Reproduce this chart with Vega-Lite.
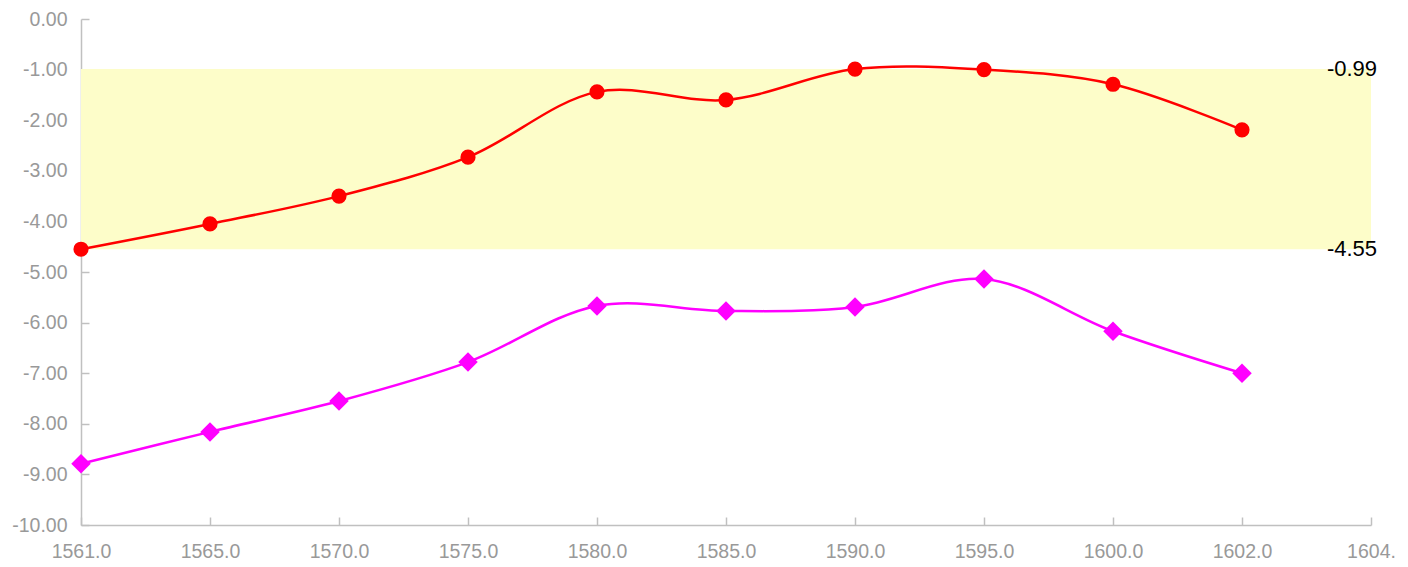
{
  "$schema": "https://vega.github.io/schema/vega-lite/v6.json",
  "width": 1290,
  "height": 506,
  "autosize": {"type": "none"},
  "padding": {"left": 81, "top": 19, "right": 37, "bottom": 42},
  "config": {
    "view": {"stroke": null},
    "font": "Liberation Sans",
    "axis": {
      "labelFont": "Liberation Sans",
      "labelFontSize": 19.5,
      "labelColor": "#999999",
      "domainColor": "#c0c0c0",
      "tickColor": "#c0c0c0",
      "domainWidth": 1.5,
      "tickWidth": 1.5,
      "grid": false,
      "title": null,
      "labelOverlap": false
    }
  },
  "datasets": {
    "series": [
      {"year": "1561.0", "series": "A", "value": -4.55},
      {"year": "1565.0", "series": "A", "value": -4.05},
      {"year": "1570.0", "series": "A", "value": -3.50},
      {"year": "1575.0", "series": "A", "value": -2.73},
      {"year": "1580.0", "series": "A", "value": -1.44},
      {"year": "1585.0", "series": "A", "value": -1.60},
      {"year": "1590.0", "series": "A", "value": -0.99},
      {"year": "1595.0", "series": "A", "value": -1.00},
      {"year": "1600.0", "series": "A", "value": -1.29},
      {"year": "1602.0", "series": "A", "value": -2.19},
      {"year": "1561.0", "series": "B", "value": -8.79},
      {"year": "1565.0", "series": "B", "value": -8.16},
      {"year": "1570.0", "series": "B", "value": -7.55},
      {"year": "1575.0", "series": "B", "value": -6.78},
      {"year": "1580.0", "series": "B", "value": -5.67},
      {"year": "1585.0", "series": "B", "value": -5.77},
      {"year": "1590.0", "series": "B", "value": -5.69},
      {"year": "1595.0", "series": "B", "value": -5.14},
      {"year": "1600.0", "series": "B", "value": -6.17},
      {"year": "1602.0", "series": "B", "value": -7.00}
    ],
    "band": [{"hi": -0.99, "lo": -4.55}],
    "marks": [
      {"year": "1604.", "value": -0.99, "label": "-0.99"},
      {"year": "1604.", "value": -4.55, "label": "-4.55"}
    ]
  },
  "encoding": {
    "x": {
      "field": "year",
      "type": "ordinal",
      "scale": {
        "type": "point",
        "padding": 0,
        "domain": ["1561.0", "1565.0", "1570.0", "1575.0", "1580.0", "1585.0", "1590.0", "1595.0", "1600.0", "1602.0", "1604."]
      },
      "axis": {"labelAngle": 0, "tickSize": -8, "labelPadding": 25}
    }
  },
  "layer": [
    {
      "data": {"name": "band"},
      "mark": {"type": "rect", "color": "#fdfdc9"},
      "encoding": {
        "x": null,
        "y": {"field": "hi", "type": "quantitative", "scale": {"domain": [-10, 0]}},
        "y2": {"field": "lo"}
      }
    },
    {
      "data": {"name": "series"},
      "mark": {"type": "line", "interpolate": "catmull-rom", "strokeWidth": 2.5},
      "encoding": {
        "y": {
          "field": "value",
          "type": "quantitative",
          "scale": {"domain": [-10, 0], "nice": false},
          "axis": {
            "values": [0, -1, -2, -3, -4, -5, -6, -7, -8, -9, -10],
            "labelExpr": "datum.value == 0 ? '0.00' : '-' + format(abs(datum.value), '.2f')",
            "tickSize": -8,
            "labelPadding": 22
          }
        },
        "color": {
          "field": "series",
          "type": "nominal",
          "scale": {"domain": ["A", "B"], "range": ["#ff0000", "#ff00ff"]},
          "legend": null
        }
      }
    },
    {
      "data": {"name": "series"},
      "mark": {"type": "point", "filled": true, "opacity": 1},
      "encoding": {
        "y": {"field": "value", "type": "quantitative"},
        "color": {
          "field": "series",
          "type": "nominal",
          "scale": {"domain": ["A", "B"], "range": ["#ff0000", "#ff00ff"]},
          "legend": null
        },
        "shape": {
          "field": "series",
          "type": "nominal",
          "scale": {"domain": ["A", "B"], "range": ["circle", "diamond"]},
          "legend": null
        },
        "size": {
          "field": "series",
          "type": "nominal",
          "scale": {"domain": ["A", "B"], "range": [230, 380]},
          "legend": null
        }
      }
    },
    {
      "data": {"name": "marks"},
      "mark": {"type": "text", "align": "center", "dx": -19, "fontSize": 22, "color": "#000000", "font": "Liberation Sans"},
      "encoding": {
        "y": {"field": "value", "type": "quantitative"},
        "text": {"field": "label"}
      }
    }
  ]
}
